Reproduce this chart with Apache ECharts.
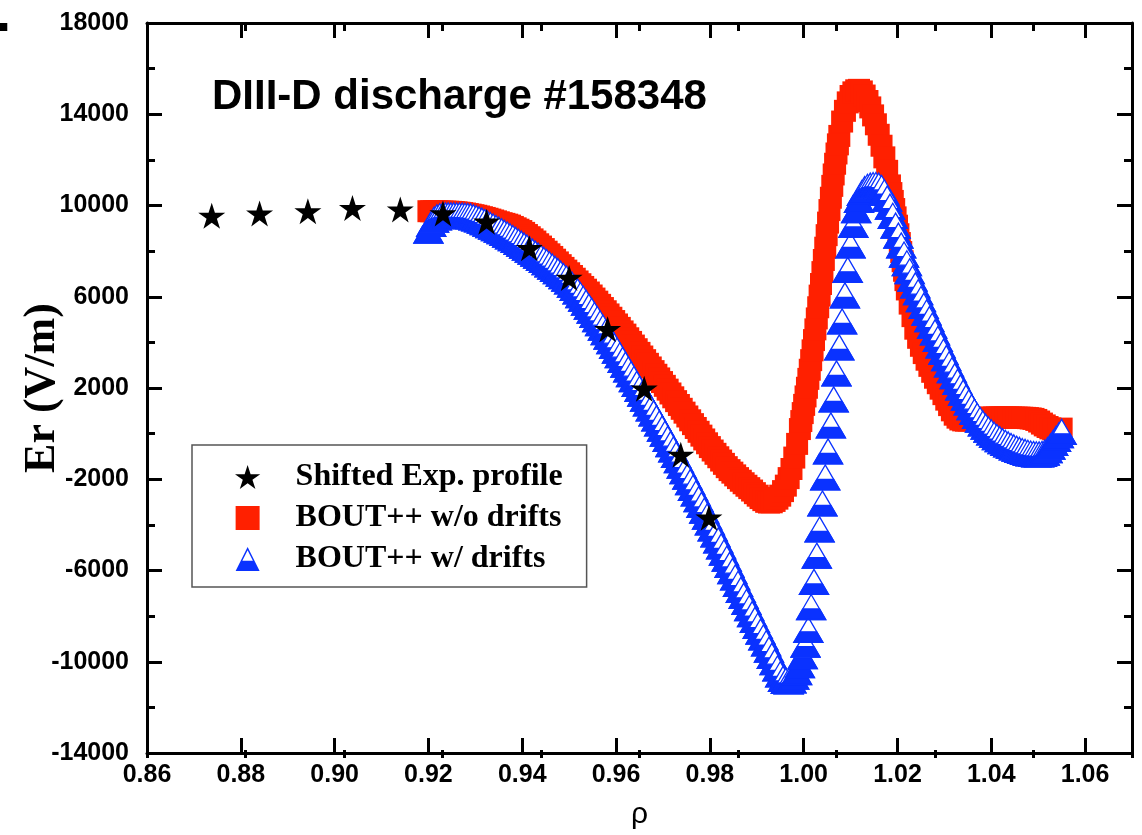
<!DOCTYPE html>
<html><head><meta charset="utf-8">
<script src="https://cdn.jsdelivr.net/npm/echarts@6/dist/echarts.min.js"></script>
<style>html,body{margin:0;padding:0;background:#fff}#c{width:1142px;height:835px}</style>
</head><body><div id="c"></div>
<script>
// ---------- axis ticks ----------
const X_MIN = 0.86, X_MAX = 1.07, X_STEP = 0.02, X_MINOR_START = 0.87;
const Y_MIN = -14000, Y_MAX = 18000, Y_STEP = 4000;

// ---------- series names ----------
const seriesNames = ['Shifted Exp. profile', 'BOUT++ w/o drifts', 'BOUT++ w/ drifts'];

// ---------- experimental (stars) ----------
const expRho = [0.8738,0.8840,0.8943,0.9038,0.9140,0.9231,0.9324,0.9415,0.9500,0.9582,0.9660,0.9738,0.9798];
const expEr  = [9550,9650,9750,9890,9826,9652,9291,8130,6826,4580,1970,-926,-3683];

// ---------- BOUT++ radial grid ----------
const rho = [
0.9200,0.9206,0.9212,0.9218,0.9224,0.9230,0.9236,0.9242,0.9248,0.9254,
0.9260,0.9266,0.9272,0.9278,0.9284,0.9290,0.9296,0.9302,0.9308,0.9314,
0.9320,0.9326,0.9332,0.9338,0.9344,0.9350,0.9356,0.9362,0.9368,0.9374,
0.9380,0.9386,0.9392,0.9398,0.9404,0.9410,0.9416,0.9422,0.9428,0.9434,
0.9440,0.9446,0.9452,0.9458,0.9464,0.9470,0.9476,0.9482,0.9488,0.9494,
0.9500,0.9506,0.9512,0.9518,0.9524,0.9530,0.9536,0.9542,0.9548,0.9554,
0.9560,0.9566,0.9572,0.9578,0.9584,0.9590,0.9596,0.9602,0.9608,0.9614,
0.9620,0.9626,0.9632,0.9638,0.9644,0.9650,0.9656,0.9662,0.9668,0.9674,
0.9680,0.9686,0.9692,0.9698,0.9704,0.9710,0.9716,0.9722,0.9728,0.9734,
0.9740,0.9746,0.9752,0.9758,0.9764,0.9770,0.9776,0.9782,0.9788,0.9794,
0.9800,0.9806,0.9812,0.9818,0.9824,0.9830,0.9836,0.9842,0.9848,0.9854,
0.9860,0.9866,0.9872,0.9878,0.9884,0.9890,0.9896,0.9902,0.9908,0.9914,
0.9920,0.9926,0.9932,0.9938,0.9944,0.9950,0.9956,0.9962,0.9968,0.9974,
0.9980,0.9986,0.9992,0.9998,1.0004,1.0010,1.0016,1.0022,1.0028,1.0034,
1.0040,1.0046,1.0052,1.0058,1.0064,1.0070,1.0076,1.0082,1.0088,1.0094,
1.0100,1.0106,1.0112,1.0118,1.0124,1.0130,1.0136,1.0142,1.0148,1.0154,
1.0160,1.0166,1.0172,1.0178,1.0184,1.0190,1.0196,1.0202,1.0208,1.0214,
1.0220,1.0226,1.0232,1.0238,1.0244,1.0250,1.0256,1.0262,1.0268,1.0274,
1.0280,1.0286,1.0292,1.0298,1.0304,1.0310,1.0316,1.0322,1.0328,1.0334,
1.0340,1.0346,1.0352,1.0358,1.0364,1.0370,1.0376,1.0382,1.0388,1.0394,
1.0400,1.0406,1.0412,1.0418,1.0424,1.0430,1.0436,1.0442,1.0448,1.0454,
1.0460,1.0466,1.0472,1.0478,1.0484,1.0490,1.0496,1.0502,1.0508,1.0514,
1.0520,1.0526,1.0532,1.0538,1.0544,1.0550];

// ---------- BOUT++ w/o drifts (red squares) ----------
const erNoDrift = [
9750,9748,9745,9742,9738,9735,9731,9727,9722,9715,
9700,9685,9668,9648,9625,9600,9575,9550,9520,9487,
9455,9420,9383,9344,9305,9265,9225,9195,9160,9120,
9060,9000,8940,8880,8800,8705,8610,8515,8420,8300,
8200,8090,7975,7860,7745,7625,7505,7385,7265,7145,
7030,6910,6790,6670,6550,6430,6310,6185,6055,5920,
5785,5645,5505,5365,5225,5080,4935,4785,4635,4480,
4340,4180,4020,3860,3700,3540,3380,3220,3060,2900,
2740,2580,2420,2260,2095,1928,1760,1592,1424,1256,
1088,920,752,584,416,248,80,-88,-256,-424,
-590,-740,-885,-1035,-1180,-1325,-1470,-1600,-1710,-1830,
-1950,-2065,-2175,-2285,-2390,-2495,-2610,-2720,-2825,-2915,
-2990,-3020,-3010,-2950,-2850,-2720,-2520,-2280,-1950,-1550,
-1050,-450,200,900,1630,2400,3220,4100,5050,6050,
7080,8150,9250,10340,11360,12280,13050,13680,14150,14520,
14800,14960,15050,15070,15000,14820,14580,14300,13950,13560,
13100,12620,12110,11520,10880,10200,9480,8740,7960,7140,
6320,5700,5150,4600,4200,3850,3530,3240,2970,2710,
2450,2210,1970,1730,1490,1250,1020,830,700,620,
580,570,575,590,610,635,660,680,690,700,
700,705,705,705,705,705,705,705,700,700,
700,695,690,680,665,645,600,530,440,360,
290,230,190,170,180,220];

// extra (finer) w/o-drift points on the steep flanks
const rhoNoDriftFine = [0.9995,1.0001,1.0007,1.0013,1.0019,1.0025,1.0031,1.0037,1.0043,1.0049,1.0055,1.0061,1.0067,1.0073,
                        1.0187,1.0193,1.0199,1.0205,1.0211,1.0217];
const erNoDriftFine  = [550,1260,2010,2800,3650,4570,5540,6560,7610,8700,9800,10860,11830,12680,
                        10545,9845,9115,8355,7555,6730];

// ---------- BOUT++ w/ drifts (blue triangles) ----------
const erDrift = [
8900,9200,9380,9480,9530,9555,9565,9570,9570,9568,
9565,9562,9558,9550,9540,9525,9485,9440,9390,9335,
9275,9210,9145,9080,9013,8944,8874,8802,8728,8652,
8574,8494,8412,8328,8243,8157,8069,7981,7892,7802,
7710,7617,7522,7425,7326,7225,7122,7017,6910,6800,
6670,6530,6385,6234,6077,5914,5745,5570,5389,5202,
5024,4840,4650,4455,4255,4053,3849,3644,3438,3231,
3023,2814,2604,2393,2181,1968,1754,1539,1323,1106,
888,668,446,222,-4,-232,-462,-694,-928,-1164,
-1402,-1642,-1884,-2128,-2374,-2622,-2872,-3124,-3378,-3634,
-3892,-4152,-4414,-4678,-4944,-5212,-5482,-5754,-6028,-6304,
-6580,-6846,-7112,-7378,-7644,-7910,-8166,-8422,-8678,-8934,
-9190,-9466,-9742,-10018,-10294,-10550,-10750,-10840,-10860,-10820,
-10650,-10450,-10150,-9750,-9250,-8600,-7600,-6500,-5350,-4200,
-3060,-1920,-780,360,1500,2640,3780,4920,6060,7180,
8250,9150,9800,10250,10550,10720,10820,10870,10900,10900,
10870,10770,10580,10300,9950,9550,9120,8680,8250,7850,
7470,7120,6800,6500,6200,5900,5600,5310,5020,4730,
4440,4150,3870,3590,3310,3040,2780,2520,2270,2030,
1800,1580,1370,1160,960,780,610,450,310,180,
60,-50,-150,-240,-330,-400,-470,-540,-600,-660,
-710,-760,-800,-840,-870,-890,-905,-910,-890,-830,
-720,-570,-400,-230,-70,80];

// ---------- styles ----------
const RED = '#FF2000', BLUE = '#0A32FF', BLACK = '#000';
const STAR_PATH = 'path://M50 0L61.23 34.55L97.55 34.55L68.17 55.9L79.39 90.45L50 69.1L20.61 90.45L31.83 55.9L2.45 34.55L38.77 34.55Z';
const SQUARE_PATH = 'path://M0 0L100 0L100 100L0 100Z';
const TRI_PATH = 'path://M50 0L100 100L0 100Z M50 14L28 57L72 57Z';

const chart = echarts.init(document.getElementById('c'), null, {renderer: 'canvas'});

const axisLineStyle = {color: BLACK, width: 3};
const tickMajor = {show: true, inside: true, length: 15, lineStyle: {color: BLACK, width: 3}};
const tickMinor = {show: true, inside: true, length: 8, lineStyle: {color: BLACK, width: 3}};
const labelFont = {fontFamily: 'Liberation Sans', fontWeight: 'bold', fontSize: 25, color: BLACK};
const gridRect = {left: 147, top: 23, width: 985, height: 735};

const redData = rho.map((r, i) => [r, erNoDrift[i]])
  .concat(rhoNoDriftFine.map((r, i) => [r, erNoDriftFine[i]]));

const option = {
  animation: false,
  backgroundColor: '#fff',
  title: {
    text: 'DIII-D discharge #158348',
    left: 212, top: 76, padding: 0,
    textStyle: {fontFamily: 'Liberation Sans', fontWeight: 'bold', fontSize: 42, color: BLACK}
  },
  graphic: [{
    type: 'text', left: -4, top: -11, silent: true,
    style: {text: '.', font: 'bold 54px "Liberation Sans"', fill: BLACK}
  }],
  legend: {
    orient: 'vertical', left: 192, top: 445,
    itemWidth: 86, itemHeight: 24, itemGap: 9,
    padding: [16, 24, 12, 43],
    borderColor: '#555', borderWidth: 1.5, backgroundColor: '#fff',
    selectedMode: false, z: 10,
    textStyle: {fontFamily: 'Liberation Serif', fontWeight: 'bold', fontSize: 32, color: BLACK, lineHeight: 32},
    data: [
      {name: seriesNames[0], icon: STAR_PATH},
      {name: seriesNames[1], icon: SQUARE_PATH},
      {name: seriesNames[2], icon: TRI_PATH}
    ]
  },
  grid: [Object.assign({}, gridRect), Object.assign({}, gridRect)],
  xAxis: [
    {type: 'value', gridIndex: 0, position: 'bottom', min: X_MIN, max: X_MAX, interval: X_STEP,
     axisLine: {show: true, onZero: false, lineStyle: axisLineStyle}, axisTick: tickMajor,
     axisLabel: Object.assign({margin: 10, showMaxLabel: false, formatter: v => v.toFixed(2)}, labelFont),
     splitLine: {show: false},
     name: 'ρ', nameLocation: 'middle', nameGap: 47, nameMoveOverlap: false,
     nameTextStyle: {fontFamily: 'Liberation Sans', fontSize: 30, color: BLACK}},
    {type: 'value', gridIndex: 0, position: 'top', min: X_MIN, max: X_MAX, interval: X_STEP,
     axisLine: {show: true, onZero: false, lineStyle: axisLineStyle}, axisTick: tickMajor,
     axisLabel: {show: false}, splitLine: {show: false}},
    {type: 'value', gridIndex: 1, position: 'bottom', min: X_MINOR_START, max: X_MAX, interval: X_STEP,
     axisLine: {show: false, onZero: false}, axisTick: tickMinor,
     axisLabel: {show: false}, splitLine: {show: false}},
    {type: 'value', gridIndex: 1, position: 'top', min: X_MINOR_START, max: X_MAX, interval: X_STEP,
     axisLine: {show: false, onZero: false}, axisTick: tickMinor,
     axisLabel: {show: false}, splitLine: {show: false}}
  ],
  yAxis: [
    {type: 'value', gridIndex: 0, position: 'left', min: Y_MIN, max: Y_MAX, interval: Y_STEP,
     axisLine: {show: true, onZero: false, lineStyle: axisLineStyle}, axisTick: tickMajor,
     minorTick: {show: true, splitNumber: 2, length: 8, lineStyle: {color: BLACK, width: 3}},
     axisLabel: Object.assign({margin: 18, formatter: v => String(Math.round(v))}, labelFont),
     splitLine: {show: false}, minorSplitLine: {show: false},
     name: 'Er (V/m)', nameLocation: 'middle', nameGap: 82, nameMoveOverlap: false,
     nameTextStyle: {fontFamily: 'Liberation Serif', fontWeight: 'bold', fontSize: 44, color: BLACK}},
    {type: 'value', gridIndex: 0, position: 'right', min: Y_MIN, max: Y_MAX, interval: Y_STEP,
     axisLine: {show: true, onZero: false, lineStyle: axisLineStyle}, axisTick: tickMajor,
     minorTick: {show: true, splitNumber: 2, length: 8, lineStyle: {color: BLACK, width: 3}},
     axisLabel: {show: false}, splitLine: {show: false}, minorSplitLine: {show: false}},
    {type: 'value', gridIndex: 1, show: false, min: Y_MIN, max: Y_MAX}
  ],
  series: [
    {
      name: seriesNames[0], type: 'scatter', xAxisIndex: 0, yAxisIndex: 0, z: 5, silent: true,
      symbol: STAR_PATH, symbolSize: [27, 26],
      itemStyle: {color: BLACK, opacity: 1},
      data: expRho.map((r, i) => [r, expEr[i]])
    },
    {
      name: seriesNames[1], type: 'scatter', xAxisIndex: 0, yAxisIndex: 0, z: 2, silent: true,
      symbol: 'rect', symbolSize: 22,
      itemStyle: {color: RED, opacity: 1},
      data: redData
    },
    {
      name: seriesNames[2], type: 'custom', xAxisIndex: 0, yAxisIndex: 0, z: 3, silent: true,
      itemStyle: {color: BLUE},
      encode: {x: 0, y: 1},
      data: rho.map((r, i) => [r, erDrift[i]]),
      renderItem: function (params, api) {
        const p = api.coord([api.value(0), api.value(1)]);
        const w = 29, h = 25;
        const x = p[0], top = p[1] - h / 2, bot = p[1] + h / 2;
        const f = 0.58, fy = top + h * f, hw = (w / 2) * f;
        return {
          type: 'group',
          children: [
            {type: 'polygon', shape: {points: [[x, top], [x + w / 2, bot], [x - w / 2, bot]]},
             style: {fill: '#fff', stroke: BLUE, lineWidth: 1.3}},
            {type: 'polygon', shape: {points: [[x - hw, fy], [x + hw, fy], [x + w / 2, bot], [x - w / 2, bot]]},
             style: {fill: BLUE, stroke: BLUE, lineWidth: 1.3}}
          ]
        };
      }
    }
  ]
};
chart.setOption(option);
</script></body></html>
